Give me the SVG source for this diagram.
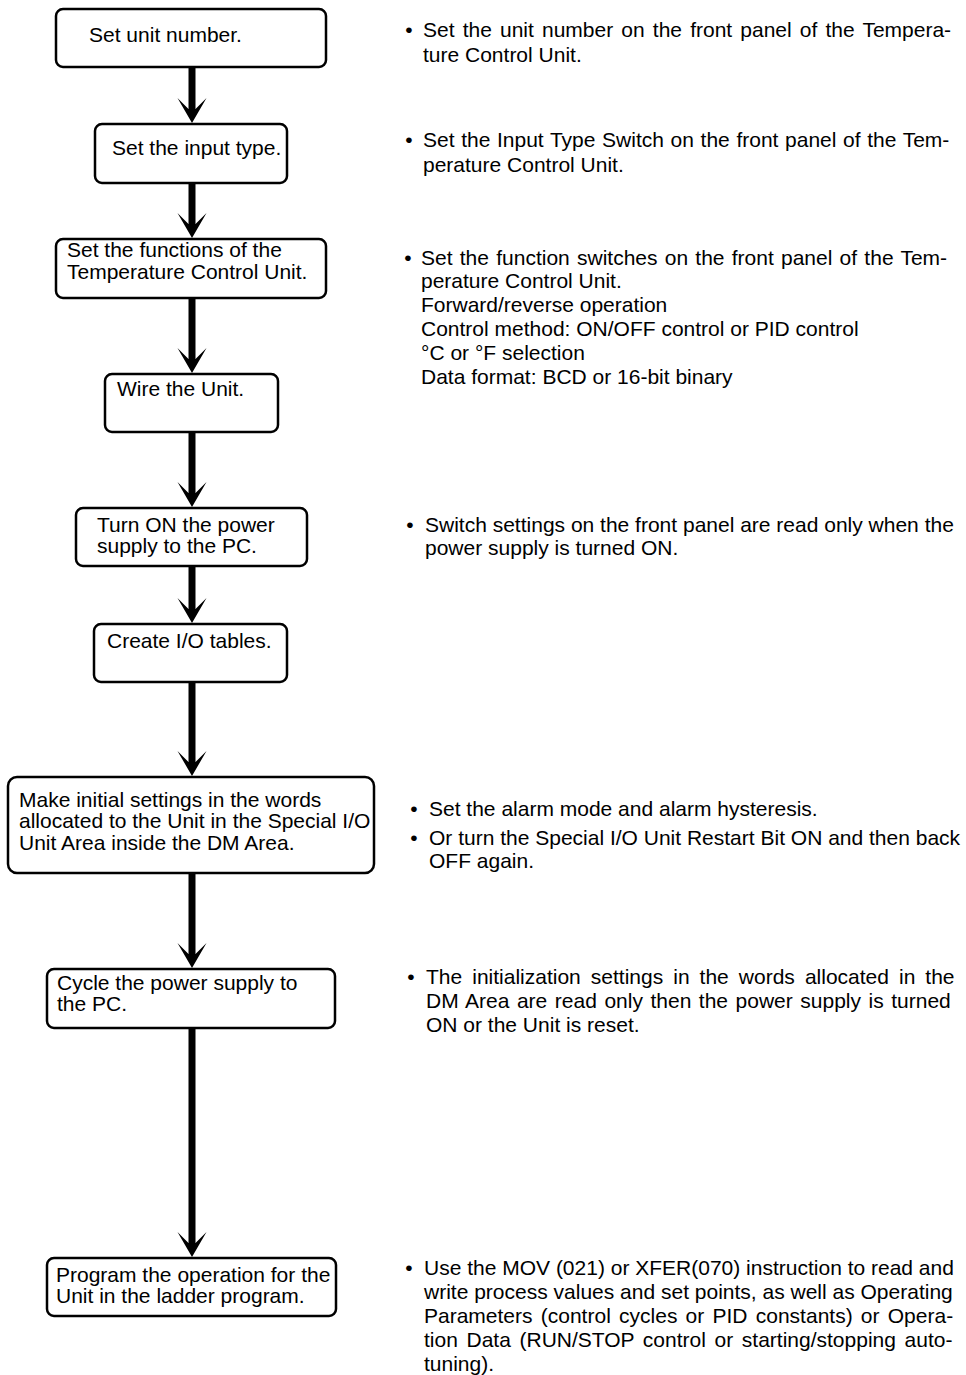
<svg xmlns="http://www.w3.org/2000/svg" width="966" height="1375" viewBox="0 0 966 1375">
<style>
text{font-family:"Liberation Sans",Arial,Helvetica,sans-serif;font-size:21px;fill:#000}
.box{fill:#fff;stroke:#000;stroke-width:2.5}
.bul{text-anchor:middle}
.con{stroke:#000;stroke-width:7;fill:none}
</style>
<defs>
<marker id="ah" markerUnits="userSpaceOnUse" viewBox="-12 -15 27 30" markerWidth="27" markerHeight="30" refX="0" refY="0" orient="auto" overflow="visible">
<path d="M14,0 L-11,-14.5 L0,-3.5 L0,3.5 L-11,14.5 Z" fill="#000"/>
</marker>
</defs>
<rect width="966" height="1375" fill="#fff"/>
<g id="connectors">
<line class="con" x1="192" y1="67" x2="192" y2="109" marker-end="url(#ah)"/>
<line class="con" x1="192" y1="183" x2="192" y2="224" marker-end="url(#ah)"/>
<line class="con" x1="192" y1="298" x2="192" y2="359" marker-end="url(#ah)"/>
<line class="con" x1="192" y1="432" x2="192" y2="493" marker-end="url(#ah)"/>
<line class="con" x1="192" y1="566" x2="192" y2="609" marker-end="url(#ah)"/>
<line class="con" x1="192" y1="682" x2="192" y2="762" marker-end="url(#ah)"/>
<line class="con" x1="192" y1="873" x2="192" y2="954" marker-end="url(#ah)"/>
<line class="con" x1="192" y1="1028" x2="192" y2="1243" marker-end="url(#ah)"/>
</g>
<g id="n1"><rect class="box" x="56" y="9" width="270" height="58" rx="7"/><text x="89" y="42">Set unit number.</text></g>
<g id="n2"><rect class="box" x="95" y="124" width="192" height="59" rx="7"/><text x="112" y="155">Set the input type.</text></g>
<g id="n3"><rect class="box" x="56" y="239" width="270" height="59" rx="7"/><text x="67" y="257">Set the functions of the</text><text x="67" y="279">Temperature Control Unit.</text></g>
<g id="n4"><rect class="box" x="105" y="374" width="173" height="58" rx="7"/><text x="117" y="396">Wire the Unit.</text></g>
<g id="n5"><rect class="box" x="76" y="508" width="231" height="58" rx="7"/><text x="97" y="532">Turn ON the power</text><text x="97" y="553">supply to the PC.</text></g>
<g id="n6"><rect class="box" x="94" y="624" width="193" height="58" rx="7"/><text x="107" y="648">Create I/O tables.</text></g>
<g id="n7"><rect class="box" x="8" y="777" width="366" height="96" rx="9"/><text x="19" y="807">Make initial settings in the words</text><text x="19" y="828">allocated to the Unit in the Special I/O</text><text x="19" y="850">Unit Area inside the DM Area.</text></g>
<g id="n8"><rect class="box" x="47" y="969" width="288" height="59" rx="7"/><text x="57" y="990">Cycle the power supply to</text><text x="57" y="1011">the PC.</text></g>
<g id="n9"><rect class="box" x="47" y="1258" width="289" height="58" rx="7"/><text x="56" y="1282">Program the operation for the</text><text x="56" y="1303">Unit in the ladder program.</text></g>
<g id="notes">
<text class="bul" x="409" y="37">•</text>
<text x="423" y="37" word-spacing="2.3">Set the unit number on the front panel of the Tempera-</text>
<text x="423" y="62">ture Control Unit.</text>
<text class="bul" x="409" y="147">•</text>
<text x="423" y="147" word-spacing="0.8">Set the Input Type Switch on the front panel of the Tem-</text>
<text x="423" y="172">perature Control Unit.</text>
<text class="bul" x="408" y="265">•</text>
<text x="421" y="265" word-spacing="1.4">Set the function switches on the front panel of the Tem-</text>
<text x="421" y="288">perature Control Unit.</text>
<text x="421" y="312">Forward/reverse operation</text>
<text x="421" y="336">Control method: ON/OFF control or PID control</text>
<text x="421" y="360">°C or °F selection</text>
<text x="421" y="384">Data format: BCD or 16-bit binary</text>
<text class="bul" x="410" y="532">•</text>
<text x="425" y="532">Switch settings on the front panel are read only when the</text>
<text x="425" y="555">power supply is turned ON.</text>
<text class="bul" x="414" y="816">•</text>
<text x="429" y="816">Set the alarm mode and alarm hysteresis.</text>
<text class="bul" x="414" y="845">•</text>
<text x="429" y="845">Or turn the Special I/O Unit Restart Bit ON and then back</text>
<text x="429" y="868">OFF again.</text>
<text class="bul" x="411" y="984">•</text>
<text x="426" y="984" word-spacing="4.2">The initialization settings in the words allocated in the</text>
<text x="426" y="1008" word-spacing="1.7">DM Area are read only then the power supply is turned</text>
<text x="426" y="1032">ON or the Unit is reset.</text>
<text class="bul" x="409" y="1275">•</text>
<text x="424" y="1275">Use the MOV (021) or XFER(070) instruction to read and</text>
<text x="424" y="1299">write process values and set points, as well as Operating</text>
<text x="424" y="1323" word-spacing="2.4">Parameters (control cycles or PID constants) or Opera-</text>
<text x="424" y="1347" word-spacing="2.8">tion Data (RUN/STOP control or starting/stopping auto-</text>
<text x="424" y="1371">tuning).</text>
</g>
</svg>
